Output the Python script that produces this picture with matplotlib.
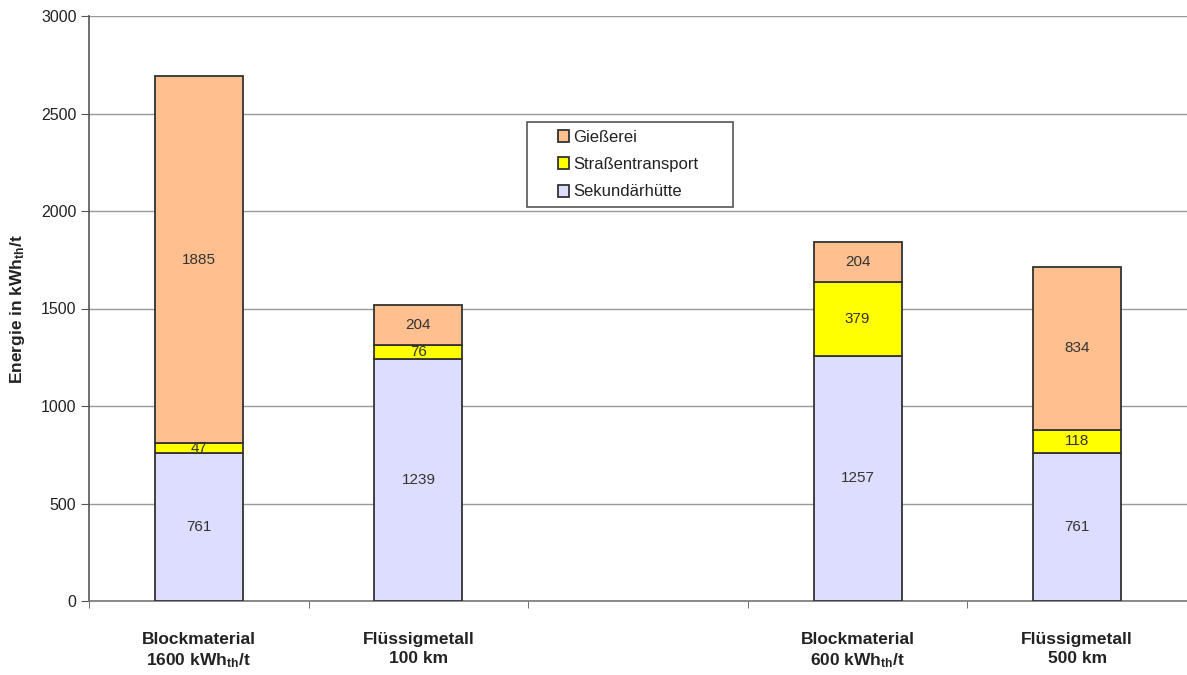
import matplotlib
matplotlib.use("Agg")
import matplotlib.pyplot as plt
from matplotlib.patches import Rectangle
import numpy as np

# Energy demand per tonne of aluminium, by route
categories = ["Blockmaterial\n1600 kWh$_{\\mathregular{th}}$/t",
              "Flüssigmetall\n100 km",
              "",
              "Blockmaterial\n600 kWh$_{\\mathregular{th}}$/t",
              "Flüssigmetall\n500 km"]
sekundaerhuette = [761, 1239, 0, 1257, 761]
strassentransport = [47, 76, 0, 379, 118]
giesserei = [1885, 204, 0, 204, 834]
has_bar = [True, True, False, True, True]

series = [
    ("Sekundärhütte", sekundaerhuette, "#DDDDFF"),
    ("Straßentransport", strassentransport, "#FFFF00"),
    ("Gießerei", giesserei, "#FFBF8F"),
]

plt.rcParams["font.family"] = ["Liberation Sans", "DejaVu Sans"]
plt.rcParams["mathtext.fontset"] = "custom"
plt.rcParams["mathtext.rm"] = "Liberation Sans:bold"
plt.rcParams["mathtext.it"] = "Liberation Sans:bold"
plt.rcParams["mathtext.bf"] = "Liberation Sans:bold"

W, H = 1187, 675
fig = plt.figure(figsize=(W / 100, H / 100), dpi=100)
ax = fig.add_axes([89 / W, 74 / H, 1 - 89 / W, 585 / H])

x = np.arange(len(categories))
idx = [i for i in range(len(categories)) if has_bar[i]]
bottom = np.zeros(len(categories))
handles = {}
for name, vals, color in series:
    vals = np.array(vals, dtype=float)
    bars = ax.bar(x[idx], vals[idx], width=0.40, bottom=bottom[idx],
                  color=color, edgecolor="#333333", linewidth=1.3, zorder=3,
                  label=name)
    handles[name] = bars
    for i in idx:
        ax.text(x[i], bottom[i] + vals[i] / 2, f"{int(vals[i])}",
                ha="center", va="center", fontsize=11, color="#333333",
                zorder=4)
    bottom += vals

ax.set_xlim(-0.5, 4.47)
ax.set_ylim(0, 3000)
ax.set_yticks(np.arange(0, 3001, 500))
ax.yaxis.grid(True, color="#999999", linewidth=1.0, zorder=0)
ax.set_axisbelow(True)

ax.set_xticks(x)
ax.set_xticklabels(categories, fontsize=12.5, fontweight="bold", color="#222222",
                   linespacing=1.35)
ax.set_xticks(np.arange(-0.5, 4.6, 1.0), minor=True)
ax.tick_params(axis="x", which="major", length=0, pad=22)
ax.tick_params(axis="x", which="minor", length=5, color="#555555", direction="out")
ax.tick_params(axis="y", length=6, color="#555555", labelsize=11.5,
               labelcolor="#222222", pad=3)

for s in ("top", "right"):
    ax.spines[s].set_visible(False)
ax.spines["left"].set_color("#555555")
ax.spines["left"].set_linewidth(1.2)
ax.spines["bottom"].set_color("#777777")
ax.spines["bottom"].set_linewidth(1.2)

ax.set_ylabel("Energie in kWh$_{\\mathregular{th}}$/t", fontsize=12.5,
              fontweight="bold", color="#222222", labelpad=10)

# Legend frame drawn separately to get the wide side margins
box_l, box_t, box_r, box_b = 527, 122, 733, 207
fig.patches.append(Rectangle((box_l / W, 1 - box_b / H),
                             (box_r - box_l) / W, (box_b - box_t) / H,
                             transform=fig.transFigure, facecolor="white",
                             edgecolor="#555555", linewidth=1.2, zorder=5))
leg = fig.legend([handles["Gießerei"], handles["Straßentransport"],
                  handles["Sekundärhütte"]],
                 ["Gießerei", "Straßentransport", "Sekundärhütte"],
                 loc="center", bbox_to_anchor=((box_l + box_r) / 2 / W - 2 / W,
                                               1 - (box_t + box_b) / 2 / H),
                 fontsize=12, frameon=False,
                 handlelength=0.7, handleheight=0.7, handletextpad=0.25,
                 borderpad=0, labelspacing=0.75, borderaxespad=0)
leg.set_zorder(6)
for t in leg.get_texts():
    t.set_color("#222222")

fig.savefig("out.png", dpi=100)
